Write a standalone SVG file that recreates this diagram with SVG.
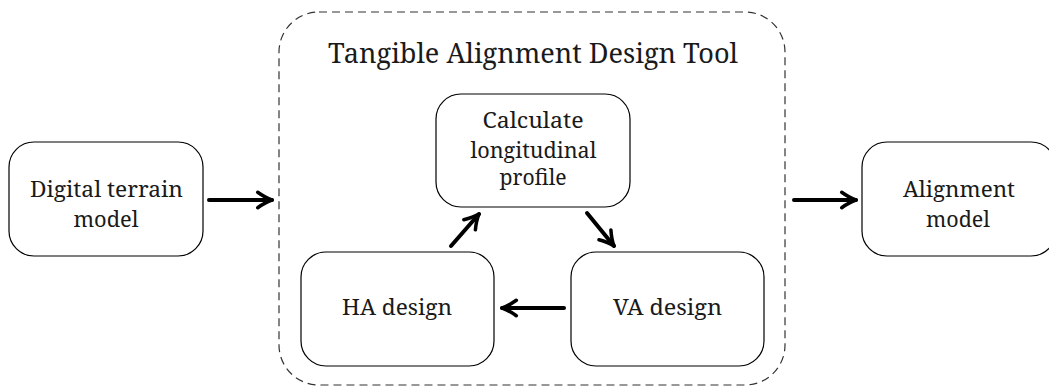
<svg xmlns="http://www.w3.org/2000/svg" width="1049" height="387" viewBox="0 0 1049 387">
<style>
.box{fill:#fff;stroke:#000;stroke-width:1.2}
text{font-family:'Noto Serif','DejaVu Serif',serif;fill:#1a1a1a;text-anchor:middle}
.t{font-size:21px}
.title{font-size:27px}
.a{fill:none;stroke:#000;stroke-width:4;stroke-linecap:round;stroke-linejoin:round}
</style>
<defs>
<marker id="ah" viewBox="0 0 10 10" refX="8" refY="5" markerWidth="5.5" markerHeight="5.5" markerUnits="strokeWidth" orient="auto">
<path d="M1.5,1.5 Q5,4 8,5 Q5,6 1.5,8.5" fill="none" stroke="#000" stroke-width="1.6" stroke-linecap="round" stroke-linejoin="round"/>
</marker>
</defs>
<g id="tool">
<rect x="279" y="12" width="506" height="373" rx="40" fill="none" stroke="#333" stroke-width="1.2" stroke-dasharray="8,5"/>
<text class="title" x="533" y="63" textLength="410" lengthAdjust="spacingAndGlyphs">Tangible Alignment Design Tool</text>
</g>
<g id="dtm">
<rect class="box" x="9" y="142" width="194" height="114" rx="25"/>
<text class="t" x="106.5" y="197" textLength="153" lengthAdjust="spacingAndGlyphs">Digital terrain</text>
<text class="t" x="106" y="227" textLength="65" lengthAdjust="spacingAndGlyphs">model</text>
</g>
<g id="calc">
<rect class="box" x="436" y="94" width="194" height="113" rx="25"/>
<text class="t" x="533" y="128" textLength="101" lengthAdjust="spacingAndGlyphs">Calculate</text>
<text class="t" x="533.5" y="158" textLength="126" lengthAdjust="spacingAndGlyphs">longitudinal</text>
<text class="t" x="533" y="185" textLength="67" lengthAdjust="spacingAndGlyphs">profile</text>
</g>
<g id="ha">
<rect class="box" x="301" y="252" width="193" height="114" rx="25"/>
<text class="t" x="397" y="315" textLength="110" lengthAdjust="spacingAndGlyphs">HA design</text>
</g>
<g id="va">
<rect class="box" x="571" y="252" width="193" height="114" rx="25"/>
<text class="t" x="667.5" y="315" textLength="109" lengthAdjust="spacingAndGlyphs">VA design</text>
</g>
<g id="am">
<rect class="box" x="862" y="142" width="194" height="114" rx="25"/>
<text class="t" x="959" y="197" textLength="112" lengthAdjust="spacingAndGlyphs">Alignment</text>
<text class="t" x="958" y="227" textLength="64" lengthAdjust="spacingAndGlyphs">model</text>
</g>
<g id="connectors">
<line class="a" x1="209" y1="200" x2="272" y2="200" marker-end="url(#ah)"/>
<line class="a" x1="794" y1="200" x2="856" y2="200" marker-end="url(#ah)"/>
<line class="a" x1="451" y1="246" x2="479" y2="214" marker-end="url(#ah)"/>
<line class="a" x1="587" y1="213" x2="614" y2="246" marker-end="url(#ah)"/>
<line class="a" x1="564" y1="308" x2="502" y2="308" marker-end="url(#ah)"/>
</g>
</svg>
